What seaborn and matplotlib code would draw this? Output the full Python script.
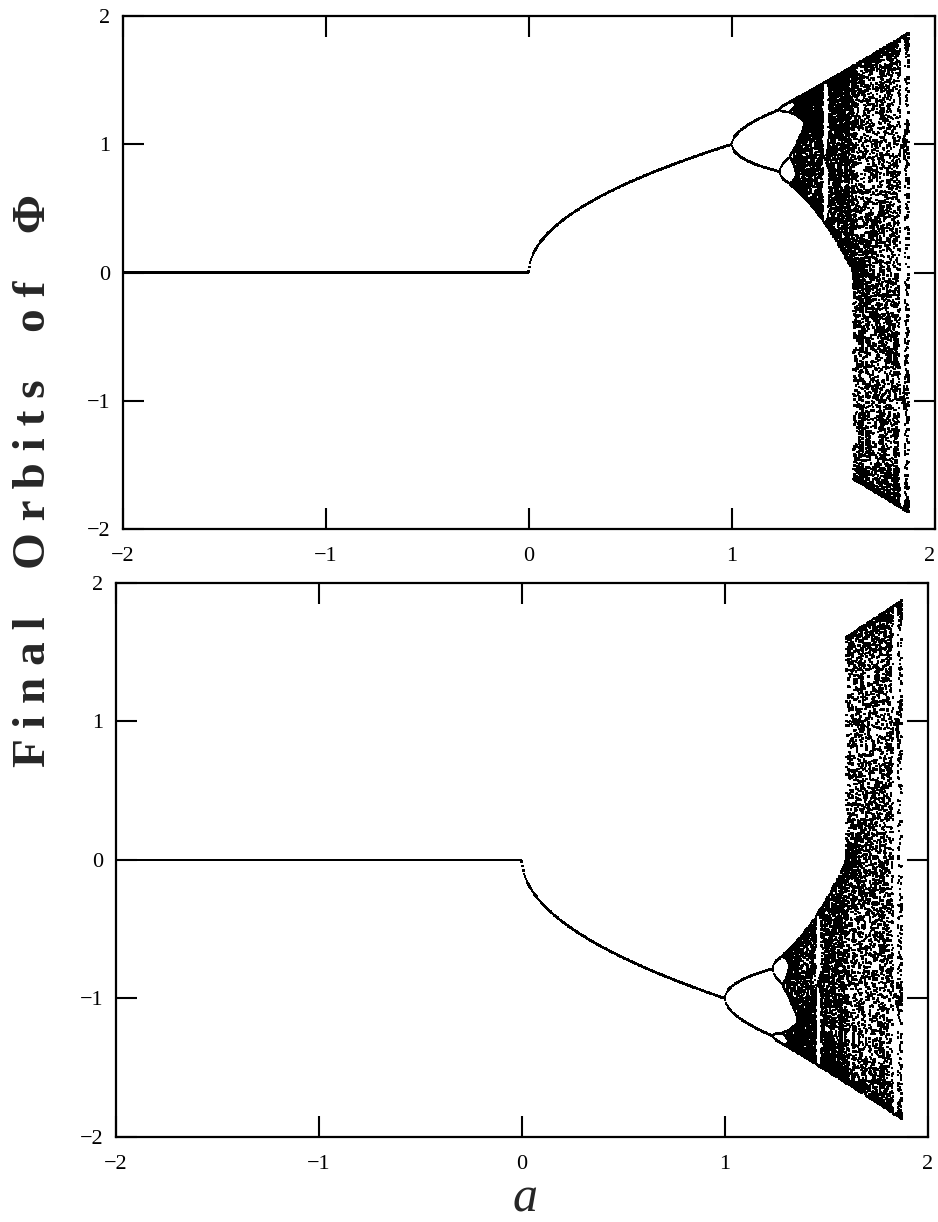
import numpy as np
import pandas as pd
import seaborn as sns
import matplotlib.pyplot as plt

# parameter sweep of the cubic map  phi -> (1 + a) phi - phi^3
a_start, a_stop = -2.0, 1.87
n_a = 900
n_transient = 600
n_keep = 80
phi0_top = 0.1        # start on the positive branch
phi0_bottom = -0.1    # start on the negative branch
ticks = [-2, -1, 0, 1, 2]
tick_labels = ['\u22122', '\u22121', '0', '1', '2']


def final_orbits(phi0: float) -> pd.DataFrame:
    """ Iterar el mapa y quedarse con los ultimos puntos de cada orbita """
    a = np.linspace(a_start, a_stop, n_a)
    phi = np.full_like(a, phi0)
    for _ in range(n_transient):
        phi = (1 + a) * phi - phi ** 3
    rows_a, rows_phi = [], []
    for _ in range(n_keep):
        phi = (1 + a) * phi - phi ** 3
        rows_a.append(a.copy())
        rows_phi.append(phi.copy())
    return pd.DataFrame({'a': np.concatenate(rows_a), 'phi': np.concatenate(rows_phi)})


sns.set_theme(style='ticks')
plt.rcParams['font.family'] = ['Liberation Serif', 'DejaVu Serif']

fig = plt.figure(figsize=(9.38, 12.22), dpi=100)
ax_top = fig.add_axes([0.1311, 0.5671, 0.8657, 0.4198])
ax_bot = fig.add_axes([0.1237, 0.0696, 0.8657, 0.4534])

for ax, phi0 in [(ax_top, phi0_top), (ax_bot, phi0_bottom)]:
    df = final_orbits(phi0)
    sns.scatterplot(data=df, x='a', y='phi', ax=ax, color='black', s=3.2,
                    marker='s', linewidth=0, edgecolor='none', legend=False)
    ax.set_xlim(-2, 2)
    ax.set_ylim(-2, 2)
    ax.set_xticks(ticks)
    ax.set_yticks(ticks)
    ax.set_xticklabels(tick_labels)
    ax.set_yticklabels(tick_labels)
    ax.set_xlabel('')
    ax.set_ylabel('')
    ax.tick_params(direction='in', length=15, width=1.5, top=True, right=True,
                   labelsize=16, colors='black')
    ax.tick_params(axis='x', pad=13)
    ax.tick_params(axis='y', pad=9)
    for spine in ax.spines.values():
        spine.set_linewidth(1.6)
        spine.set_color('black')
    ax.set_facecolor('white')

# keep the last "2" inside the picture
ax_top.get_xticklabels()[-1].set_horizontalalignment('right')

fig.text(0.036, 0.607, 'F i n a l    O r b i t s    o f    \u03a6', rotation=90,
         ha='center', va='center', fontsize=34, fontweight='bold',
         family=['Liberation Serif', 'DejaVu Serif'])
fig.text(0.56, 0.019, 'a', ha='center', va='center', fontsize=36,
         fontstyle='italic', family=['Liberation Serif', 'DejaVu Serif'])

fig.savefig('out.png', dpi=100, facecolor='white')
